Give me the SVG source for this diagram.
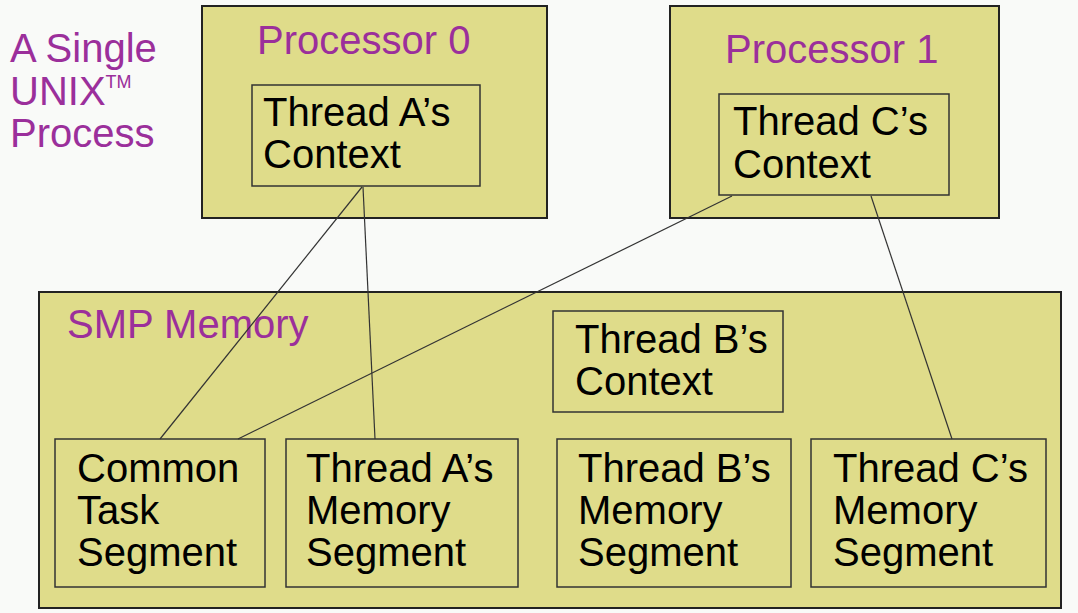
<svg xmlns="http://www.w3.org/2000/svg" width="1078" height="613" viewBox="0 0 1078 613">
<style>
.bg{fill:#f9faf8}
.outer{fill:#dfdc8a;stroke:#222;stroke-width:2}
.inner{fill:#dfdc8a;stroke:#333;stroke-width:1.5}
.t{font-family:"Liberation Sans",Arial,sans-serif;font-size:40px;fill:#000}
.p{font-family:"Liberation Sans",Arial,sans-serif;font-size:40px;fill:#9b2f9b}
.c{stroke:#333;stroke-width:1.2;fill:none}
</style>
<rect class="bg" x="0" y="0" width="1078" height="613"/>
<g id="title">
<text class="p" x="10" y="62">A Single</text>
<text class="p" x="10" y="105">UNIX<tspan font-size="18" dy="-17">TM</tspan></text>
<text class="p" x="10" y="147">Process</text>
</g>
<g id="processor0">
<rect class="outer" x="202" y="6" width="345" height="212"/>
<text class="p" x="257" y="54">Processor 0</text>
</g>
<g id="threadA-context">
<rect class="inner" x="252" y="85" width="228" height="101"/>
<text class="t" x="263" y="126">Thread A’s</text>
<text class="t" x="263" y="168">Context</text>
</g>
<g id="processor1">
<rect class="outer" x="670" y="6" width="329" height="212"/>
<text class="p" x="725" y="63">Processor 1</text>
</g>
<g id="threadC-context">
<rect class="inner" x="719" y="94" width="230" height="101"/>
<text class="t" x="733" y="135">Thread C’s</text>
<text class="t" x="733" y="178">Context</text>
</g>
<g id="smp-memory">
<rect class="outer" x="39" y="292" width="1022" height="316"/>
<text class="p" x="67" y="338">SMP Memory</text>
</g>
<g id="threadB-context">
<rect class="inner" x="553" y="311" width="230" height="101"/>
<text class="t" x="575" y="353">Thread B’s</text>
<text class="t" x="575" y="395">Context</text>
</g>
<g id="common-task-segment">
<rect class="inner" x="55" y="439" width="210" height="148"/>
<text class="t" x="77" y="482">Common</text>
<text class="t" x="77" y="524">Task</text>
<text class="t" x="77" y="566">Segment</text>
</g>
<g id="threadA-memory">
<rect class="inner" x="286" y="439" width="232" height="148"/>
<text class="t" x="306" y="482">Thread A’s</text>
<text class="t" x="306" y="524">Memory</text>
<text class="t" x="306" y="566">Segment</text>
</g>
<g id="threadB-memory">
<rect class="inner" x="557" y="439" width="234" height="148"/>
<text class="t" x="578" y="482">Thread B’s</text>
<text class="t" x="578" y="524">Memory</text>
<text class="t" x="578" y="566">Segment</text>
</g>
<g id="threadC-memory">
<rect class="inner" x="811" y="439" width="235" height="148"/>
<text class="t" x="833" y="482">Thread C’s</text>
<text class="t" x="833" y="524">Memory</text>
<text class="t" x="833" y="566">Segment</text>
</g>
<g id="connectors">
<line class="c" x1="362" y1="187" x2="160" y2="439"/>
<line class="c" x1="363" y1="187" x2="375" y2="439"/>
<line class="c" x1="732" y1="196" x2="238" y2="439"/>
<line class="c" x1="871" y1="196" x2="952" y2="439"/>
</g>
</svg>
